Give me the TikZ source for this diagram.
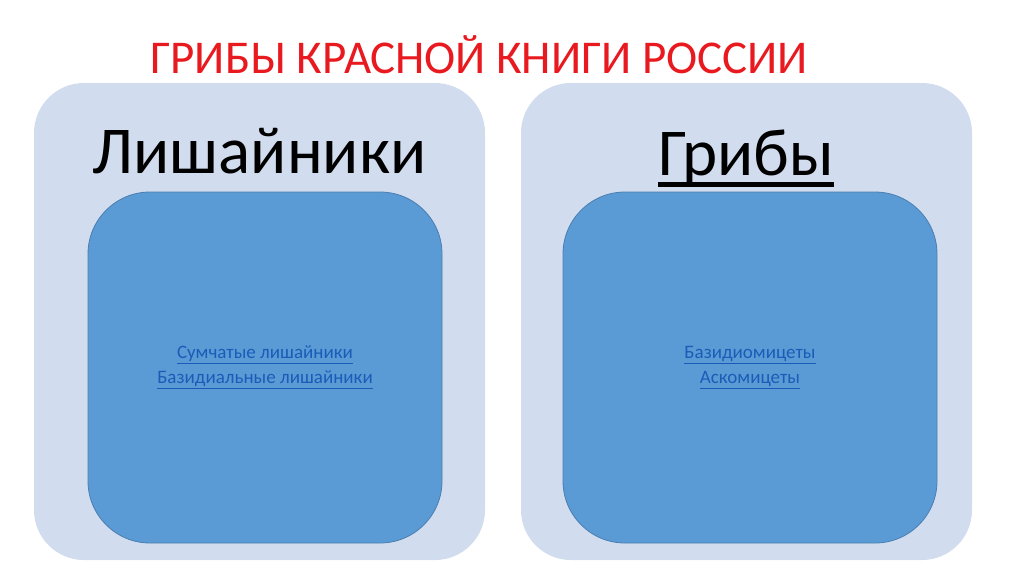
\documentclass[tikz,border=0pt]{standalone}
\usepackage{fontspec}
\setmainfont{Carlito}
\usepackage{tikz}
\usetikzlibrary{positioning}

\definecolor{titelrot}{HTML}{E8191F}
\definecolor{aussenblau}{HTML}{D1DCEE}
\definecolor{innenblau}{HTML}{5B9BD5}
\definecolor{innenrand}{HTML}{4A7EB0}
\definecolor{linkblau}{HTML}{1A5CB8}

\begin{document}
\begin{tikzpicture}[x=1pt, y=-1pt]
			\tikzstyle{every node}=[inner sep=0pt, outer sep=0pt]
			\tikzstyle{aussen}=[fill=aussenblau, draw=none, rounded corners=50pt, minimum width=451pt, minimum height=477pt]
			\tikzstyle{innen}=[fill=innenblau, draw=innenrand, line width=0.8pt, rounded corners=62pt, minimum height=351pt, text=linkblau, align=center, font=\fontsize{19}{25}\selectfont]
			\tikzstyle{kopf}=[anchor=base, font=\fontsize{67}{70}\selectfont]
			
			%Rahmen festlegen
			\useasboundingbox (0,0) rectangle (1024,574);
			
			%Ueberschrift
			\node[anchor=base, text=titelrot, font=\fontsize{47}{50}\selectfont] (titel) at (479,73) {ГРИБЫ КРАСНОЙ КНИГИ РОССИИ};
			
			%Hintergrundflaechen
			\node[aussen] (linksaussen) at (259.5,321.5) {};
			\node[aussen] (rechtsaussen) at (746.5,321.5) {};
			
			%Spaltenkoepfe
			\node[kopf] (flechten) at (259.5,173) {Лишайники};
			\node[kopf] (pilze) at (746,175) {Грибы};
			\draw[line width=4.5pt] ([yshift=-9.5pt]pilze.base west) -- ([yshift=-9.5pt]pilze.base east); %Unterstreichung
			
			%Innere Felder
			\node[innen, minimum width=354pt] (flechtenliste) at (265,367.5) {\underline{Сумчатые лишайники}\\ \underline{Базидиальные лишайники}};
			\node[innen, minimum width=374pt] (pilzliste) at (750,367.5) {\underline{Базидиомицеты}\\ \underline{Аскомицеты}};
\end{tikzpicture}
\end{document}
